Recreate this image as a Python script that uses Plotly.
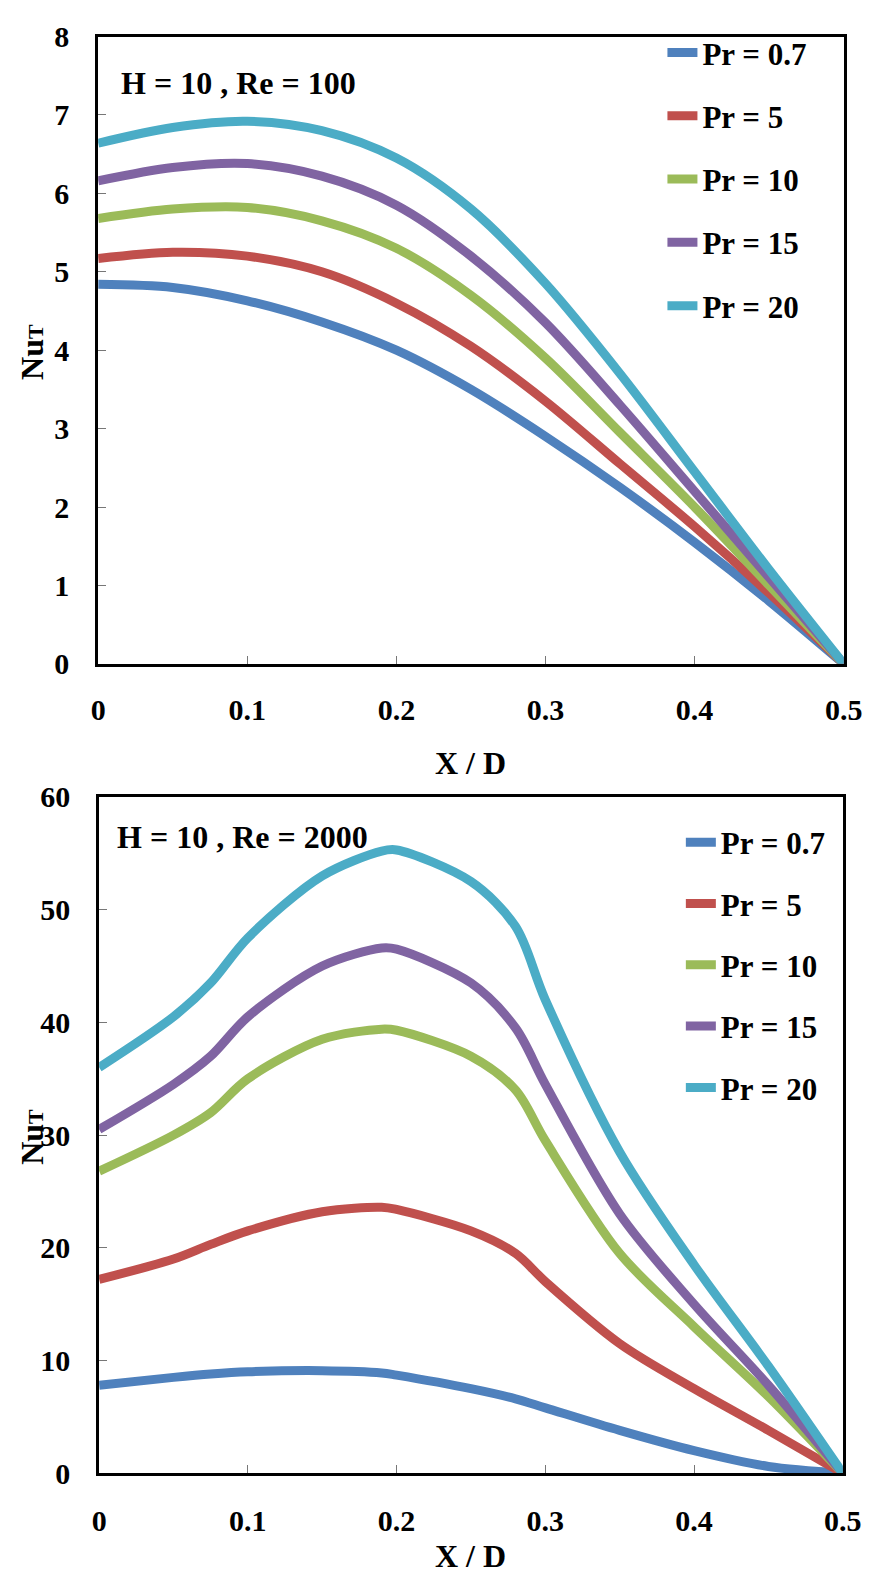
import plotly.graph_objects as go

# ---------------- data ----------------
labels = ["Pr = 0.7", "Pr = 5", "Pr = 10", "Pr = 15", "Pr = 20"]
colors = ["#4F81BD", "#C0504D", "#9BBB59", "#8064A2", "#4BACC6"]

# Top panel: H = 10, Re = 100
x_top = [0.0, 0.05, 0.1, 0.15, 0.2, 0.25, 0.3, 0.35, 0.4, 0.45, 0.5]
nu_top_07 = [4.84, 4.80, 4.63, 4.36, 4.00, 3.50, 2.90, 2.25, 1.55, 0.80, 0.0]
nu_top_5 = [5.17, 5.25, 5.20, 5.00, 4.60, 4.05, 3.35, 2.55, 1.75, 0.90, 0.0]
nu_top_10 = [5.68, 5.80, 5.82, 5.65, 5.30, 4.70, 3.90, 2.95, 2.00, 1.00, 0.0]
nu_top_15 = [6.16, 6.33, 6.38, 6.22, 5.85, 5.20, 4.35, 3.30, 2.20, 1.10, 0.0]
nu_top_20 = [6.64, 6.84, 6.92, 6.80, 6.45, 5.80, 4.85, 3.70, 2.45, 1.20, 0.0]

# Bottom panel: H = 10, Re = 2000
x_bot = [0.0, 0.05, 0.075, 0.1, 0.15, 0.19, 0.2, 0.25, 0.28, 0.3, 0.35, 0.4, 0.45, 0.5]
nu_bot_07 = [7.8, 8.5, 8.8, 9.0, 9.1, 8.9, 8.7, 7.5, 6.6, 5.8, 3.8, 2.0, 0.6, 0.0]
nu_bot_5 = [17.2, 19.0, 20.3, 21.5, 23.2, 23.6, 23.4, 21.5, 19.5, 17.0, 11.5, 7.5, 3.8, 0.0]
nu_bot_10 = [26.8, 30.0, 32.0, 35.0, 38.5, 39.4, 39.3, 37.0, 34.0, 29.5, 19.5, 13.0, 6.8, 0.0]
nu_bot_15 = [30.5, 34.5, 37.0, 40.5, 45.0, 46.6, 46.5, 43.5, 39.5, 34.5, 23.0, 15.0, 7.8, 0.0]
nu_bot_20 = [36.0, 40.5, 43.5, 47.5, 53.0, 55.2, 55.3, 52.5, 48.5, 42.0, 28.5, 18.5, 9.5, 0.0]

top_series = [nu_top_07, nu_top_5, nu_top_10, nu_top_15, nu_top_20]
bot_series = [nu_bot_07, nu_bot_5, nu_bot_10, nu_bot_15, nu_bot_20]

x_ticks = [0, 0.1, 0.2, 0.3, 0.4, 0.5]
x_ticktext = ["0", "0.1", "0.2", "0.3", "0.4", "0.5"]
y_ticks_top = [0, 1, 2, 3, 4, 5, 6, 7, 8]
y_ticks_bot = [0, 10, 20, 30, 40, 50, 60]

# ---------------- figure ----------------
W, H = 886, 1591
FONT = "Liberation Serif"
fig = go.Figure()

for i in range(5):
    fig.add_trace(go.Scatter(
        x=x_top, y=top_series[i], mode="lines", name=labels[i],
        line=dict(color=colors[i], width=9, shape="spline", smoothing=0.9),
        xaxis="x", yaxis="y", legend="legend", legendgroup="t%d" % i))
for i in range(5):
    fig.add_trace(go.Scatter(
        x=x_bot, y=bot_series[i], mode="lines", name=labels[i],
        line=dict(color=colors[i], width=9, shape="spline", smoothing=0.9),
        xaxis="x2", yaxis="y2", legend="legend2", legendgroup="b%d" % i))

def px_x(p):
    return p / W

def px_y(p):
    return 1 - p / H

tickfont = dict(family=FONT, size=30, color="black", weight="bold")
axis_common = dict(showline=True, linecolor="black", linewidth=3, mirror=True,
                   ticks="inside", ticklen=8, tickwidth=1, tickcolor="#777",
                   showgrid=False, zeroline=False, tickfont=tickfont)
legfont = dict(family=FONT, size=31, color="black", weight="bold")

fig.update_layout(
    width=W, height=H,
    margin=dict(l=0, r=0, t=0, b=0),
    paper_bgcolor="white", plot_bgcolor="white",
    xaxis=dict(domain=[px_x(93), px_x(862)], range=[0, 0.5], anchor="y",
               tickvals=x_ticks, ticktext=x_ticktext, ticklabelstandoff=17, **axis_common),
    yaxis=dict(domain=[px_y(661), px_y(20)], range=[0, 8], anchor="x",
               tickvals=y_ticks_top, ticklabelstandoff=20, **axis_common),
    xaxis2=dict(domain=[px_x(94), px_x(861)], range=[0, 0.5], anchor="y2",
                tickvals=x_ticks, ticktext=x_ticktext, ticklabelstandoff=19, **axis_common),
    yaxis2=dict(domain=[px_y(1488), px_y(797)], range=[0, 60], anchor="x2",
                tickvals=y_ticks_bot, ticklabelstandoff=20, **axis_common),
    legend=dict(x=px_x(675), y=px_y(9), xanchor="left", yanchor="top",
                bgcolor="rgba(255,255,255,0)", tracegroupgap=20,
                font=legfont, itemwidth=30),
    legend2=dict(x=px_x(694), y=px_y(816), xanchor="left", yanchor="top",
                 bgcolor="rgba(255,255,255,0)", tracegroupgap=18,
                 font=legfont, itemwidth=30),
    showlegend=True,
)

ann_font = dict(family=FONT, size=32, color="black", weight="bold")

def label(x, y, text, angle=0):
    fig.add_annotation(x=px_x(x), y=px_y(y), xref="paper", yref="paper",
                       xanchor="center", yanchor="middle", text=text,
                       textangle=angle, showarrow=False, font=ann_font)

label(238, 67, "H = 10 , Re = 100")
label(242, 838, "H = 10 , Re = 2000")
ytitle = "Nu<span style='font-size:22px'>T</span>"
label(24, 342, ytitle, -90)
label(24, 1144, ytitle, -90)
label(477, 762, "X / D")
label(477, 1573, "X / D")

fig.write_html("out.html")
